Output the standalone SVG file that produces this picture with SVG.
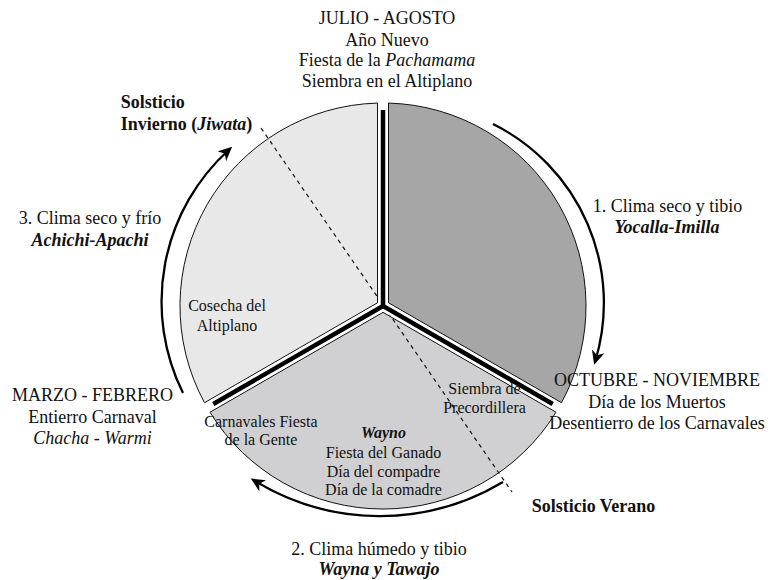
<svg xmlns="http://www.w3.org/2000/svg" width="768" height="580" viewBox="0 0 768 580">
<style>
text{font-family:"Liberation Serif","Times New Roman",serif;fill:#111;text-anchor:middle}
.o{font-size:18px}
.i{font-size:16px}
.b{font-weight:bold}
.it{font-style:italic}
.wedge{stroke:#111;stroke-width:1}
.arc{fill:none;stroke:#000;stroke-width:2.3}
</style>
<defs>
<marker id="ah" markerUnits="userSpaceOnUse" markerWidth="16" markerHeight="14" refX="10" refY="7" orient="auto" viewBox="0 0 16 14">
<path d="M0,0.5 L14,7 L0,13.5 L4,7 Z" fill="#000"/>
</marker>
</defs>
<rect width="768" height="580" fill="#fff"/>

<g id="wedge-dry-warm">
<path class="wedge" fill="#a5a6a5" d="M388.5,302.8 L388.5,103.07 A203,203 0 0 1 561.49,402.71 Z"/>
</g>
<g id="wedge-humid-warm">
<path class="wedge" fill="#d0d0d2" d="M383,312.35 L556,412.23 A203,203 0 0 1 210,412.23 Z"/>
</g>
<g id="wedge-dry-cold">
<path class="wedge" fill="#e8e8e8" d="M377.5,302.8 L204.5,402.71 A203,203 0 0 1 377.5,103.07 Z"/>
</g>

<g id="solstice-axis">
<line x1="261" y1="128" x2="512" y2="492" stroke="#111" stroke-width="1.2" stroke-dasharray="4 4"/>
</g>

<g id="separators">
<path d="M383,110 L383,306 L552.7,404 M383,306 L213.3,404" fill="none" stroke="#fff" stroke-width="9"/>
<polygon points="387.5,303.4 383,311.2 378.5,303.4" fill="#fff"/>
<path d="M383,110 L383,306 L552.7,404 M383,306 L213.3,404" fill="none" stroke="#000" stroke-width="4.5"/>
<polygon points="385.25,304.7 383,308.6 380.75,304.7" fill="#000"/>
</g>

<g id="connectors">
<path class="arc" marker-end="url(#ah)" d="M493,124 A200,200 0 0 1 595.3,361"/>
<path class="arc" marker-end="url(#ah)" d="M503,482 A240,240 0 0 1 254.2,480.6"/>
<path class="arc" marker-end="url(#ah)" d="M183,393 A205,205 0 0 1 229.2,149.5"/>
</g>

<g id="label-julio-agosto">
<text class="o" x="387" y="24">JULIO - AGOSTO</text>
<text class="o" x="387" y="45.5">Año Nuevo</text>
<text class="o" x="387" y="66">Fiesta de la <tspan class="it">Pachamama</tspan></text>
<text class="o" x="387" y="86.5">Siembra en el Altiplano</text>
</g>
<g id="label-clima-1">
<text class="o" x="667.5" y="211.7">1. Clima seco y tibio</text>
<text class="o b it" x="667" y="232.7">Yocalla-Imilla</text>
</g>
<g id="label-octubre-noviembre">
<text class="o" x="657" y="386">OCTUBRE - NOVIEMBRE</text>
<text class="o" x="657" y="407.5">Día de los Muertos</text>
<text class="o" x="657" y="429">Desentierro de los Carnavales</text>
</g>
<g id="label-solsticio-verano">
<text class="o b" x="531.7" y="511.7" style="text-anchor:start">Solsticio Verano</text>
</g>
<g id="label-clima-2">
<text class="o" x="379" y="555">2. Clima húmedo y tibio</text>
<text class="o b it" x="379" y="575">Wayna y Tawajo</text>
</g>
<g id="label-marzo-febrero">
<text class="o" x="92.5" y="401">MARZO - FEBRERO</text>
<text class="o" x="92.5" y="422.5">Entierro Carnaval</text>
<text class="o it" x="92.5" y="444">Chacha - Warmi</text>
</g>
<g id="label-clima-3">
<text class="o" x="90" y="224">3. Clima seco y frío</text>
<text class="o b it" x="90" y="245.5">Achichi-Apachi</text>
</g>
<g id="label-solsticio-invierno">
<text class="o b" x="120.7" y="108.3" style="text-anchor:start">Solsticio</text>
<text class="o b" x="120.7" y="130" style="text-anchor:start">Invierno (<tspan class="it">Jiwata</tspan>)</text>
</g>
<g id="label-cosecha">
<text class="i" x="227" y="310.5">Cosecha del</text>
<text class="i" x="227" y="330.5">Altiplano</text>
</g>
<g id="label-carnavales">
<text class="i" x="261" y="426.7">Carnavales Fiesta</text>
<text class="i" x="261" y="445">de la Gente</text>
</g>
<g id="label-siembra-precordillera">
<text class="i" x="484.5" y="394">Siembra de</text>
<text class="i" x="484.5" y="412.7">Precordillera</text>
</g>
<g id="label-wayno">
<text class="i b it" x="383.5" y="438.3">Wayno</text>
<text class="i" x="383.5" y="458.3">Fiesta del Ganado</text>
<text class="i" x="383.5" y="476.7">Día del compadre</text>
<text class="i" x="383.5" y="495">Día de la comadre</text>
</g>
</svg>
